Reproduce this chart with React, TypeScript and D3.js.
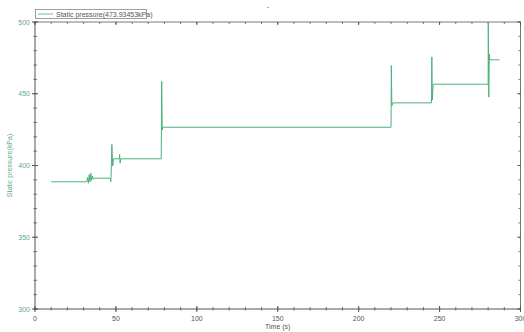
import React from "react";
import * as d3 from "d3";

// step trace (time s, static pressure kPa)
const times = [
  10, 32, 32.5, 33, 33.5, 34, 34.5, 35, 35.5, 36, 37, 46.5, 46.8, 47, 47.5, 48, 48.5,
  52, 52.3, 52.6, 53, 78, 78.3, 78.6, 79, 220, 220.2, 220.5, 221, 245, 245.2, 245.5,
  246, 280, 280.1, 280.4, 280.7, 281, 287,
];
const pressures = [
  389, 389, 392, 388, 394, 389, 395, 390, 393, 391, 391.5, 391.5, 389, 392, 415, 400, 405,
  405, 408, 402, 405, 405, 459, 425, 427, 427, 470, 442, 444, 444, 476, 446,
  457, 457, 500, 448, 478, 474, 474,
];
const xTicks = [0, 50, 100, 150, 200, 250, 300];
const yTicks = [300, 350, 400, 450, 500];
const legendLabel = "Static pressure(473.93453kPa)";

const W = 524;
const H = 332;
const margin = { top: 22, right: 3, bottom: 23, left: 35 };

export default function App() {
  const x = d3.scaleLinear().domain([0, 300]).range([margin.left, W - margin.right - 0.5]);
  const y = d3.scaleLinear().domain([300, 500]).range([H - margin.bottom, margin.top]);
  const points: [number, number][] = times.map((t, i) => [t, pressures[i]]);
  const line = d3
    .line<[number, number]>()
    .x((d) => x(d[0]))
    .y((d) => y(d[1]) + 0.5);

  const minorX = d3.range(0, 301, 10);
  const minorY = d3.range(300, 501, 10);
  const axisColor = "#555";
  const font = "Liberation Sans, Arial, sans-serif";
  const [x0, x1] = x.range();
  const [y0, y1] = y.range();

  return (
    <svg
      width={W}
      height={H}
      style={{ position: "absolute", left: 0, top: 0, background: "#fff" }}
      fontFamily={font}
    >
      <text x={268} y={9} fontSize={7} fill="#555" textAnchor="middle">-</text>

      {/* frame */}
      <line x1={x0} x2={x1} y1={y0} y2={y0} stroke={axisColor} />
      <line x1={x0} x2={x1} y1={y1} y2={y1} stroke={axisColor} strokeWidth={0.8} />
      <line x1={x0} x2={x0} y1={y0} y2={y1} stroke={axisColor} />
      <line x1={x1} x2={x1} y1={y0} y2={y1} stroke={axisColor} strokeWidth={0.8} />

      {/* minor ticks */}
      {minorX.map((v) => (
        <g key={"mx" + v}>
          <line x1={x(v)} x2={x(v)} y1={y0 - 2} y2={y0 + 1.5} stroke={axisColor} strokeWidth={0.8} />
          <line x1={x(v)} x2={x(v)} y1={y1} y2={y1 + 2} stroke={axisColor} strokeWidth={0.8} />
        </g>
      ))}
      {minorY.map((v) => (
        <g key={"my" + v}>
          <line x1={x0 - 1.5} x2={x0 + 2} y1={y(v)} y2={y(v)} stroke={axisColor} strokeWidth={0.8} />
          <line x1={x1 - 2} x2={x1} y1={y(v)} y2={y(v)} stroke={axisColor} strokeWidth={0.8} />
        </g>
      ))}

      {/* major ticks + labels */}
      {xTicks.map((v) => (
        <g key={"x" + v}>
          <line x1={x(v)} x2={x(v)} y1={y0 - 3} y2={y0 + 3} stroke={axisColor} />
          <line x1={x(v)} x2={x(v)} y1={y1} y2={y1 + 3} stroke={axisColor} />
          <text x={x(v)} y={y0 + 12} fontSize={7} fill="#555" textAnchor="middle">
            {v}
          </text>
        </g>
      ))}
      {yTicks.map((v) => (
        <g key={"y" + v}>
          <line x1={x0 - 3} x2={x0 + 3} y1={y(v)} y2={y(v)} stroke={axisColor} />
          <line x1={x1 - 3} x2={x1} y1={y(v)} y2={y(v)} stroke={axisColor} />
          <text x={x0 - 5} y={y(v) + 2.5} fontSize={7} fill="#5fa883" textAnchor="end">
            {v}
          </text>
        </g>
      ))}

      <text x={(x0 + x1) / 2} y={H - 3} fontSize={7} fill="#555" textAnchor="middle">
        Time (s)
      </text>
      <text
        transform={`translate(12,${(y0 + y1) / 2}) rotate(-90)`}
        fontSize={7}
        fill="#5fa883"
        textAnchor="middle"
      >
        Static pressure(kPa)
      </text>

      <path d={line(points) ?? ""} fill="none" stroke="#4cb27a" strokeWidth={1} />

      {/* legend */}
      <rect x={35.5} y={9.5} width={111} height={9} fill="#fff" stroke="#888" strokeWidth={0.8} />
      <line x1={38} x2={53} y1={14} y2={14} stroke="#9fd6b6" strokeWidth={1.5} />
      <text x={56} y={16.5} fontSize={7} fill="#555">
        {legendLabel}
      </text>
    </svg>
  );
}
